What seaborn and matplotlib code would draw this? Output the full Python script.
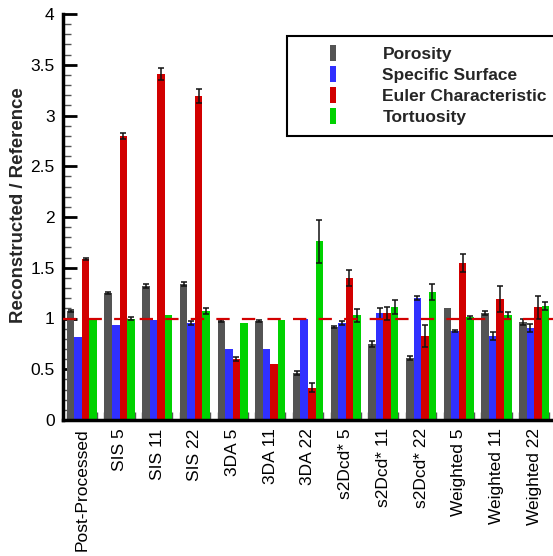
import matplotlib
matplotlib.use("Agg")
import matplotlib.pyplot as plt
from matplotlib.lines import Line2D
from matplotlib.ticker import MultipleLocator, FuncFormatter
import seaborn as sns
import pandas as pd

# values
categories = ["Post-Processed", "SIS 5", "SIS 11", "SIS 22", "3DA 5", "3DA 11", "3DA 22",
              "s2Dcd* 5", "s2Dcd* 11", "s2Dcd* 22", "Weighted 5", "Weighted 11", "Weighted 22"]
metrics = ["Porosity", "Specific Surface", "Euler Characteristic", "Tortuosity"]

porosity = [1.07, 1.25, 1.32, 1.34, 0.98, 0.98, 0.46, 0.92, 0.75, 0.61, 1.10, 1.05, 0.97]
specific_surface = [0.82, 0.94, 0.99, 0.96, 0.70, 0.70, 1.00, 0.96, 1.05, 1.20, 0.88, 0.83, 0.91]
euler = [1.59, 2.80, 3.41, 3.19, 0.60, 0.55, 0.32, 1.40, 1.05, 0.83, 1.55, 1.19, 1.11]
tortuosity = [1.00, 1.00, 1.03, 1.07, 0.96, 0.99, 1.76, 1.03, 1.11, 1.26, 1.01, 1.03, 1.12]

porosity_err = [0.01, 0.01, 0.02, 0.02, 0.01, 0.01, 0.02, 0.01, 0.03, 0.02, 0.0, 0.02, 0.03]
specific_surface_err = [0.0, 0.0, 0.0, 0.02, 0.0, 0.0, 0.0, 0.02, 0.05, 0.02, 0.01, 0.04, 0.04]
euler_err = [0.01, 0.03, 0.06, 0.07, 0.02, 0.0, 0.04, 0.08, 0.06, 0.11, 0.09, 0.13, 0.11]
tortuosity_err = [0.0, 0.01, 0.0, 0.03, 0.0, 0.0, 0.21, 0.06, 0.07, 0.08, 0.01, 0.03, 0.04]

reference_level = 1.0
colors = ["#545454", "#3030ff", "#d20000", "#00d200"]

values = [porosity, specific_surface, euler, tortuosity]
errors = [porosity_err, specific_surface_err, euler_err, tortuosity_err]

rows = []
for metric, vals in zip(metrics, values):
    for cat, v in zip(categories, vals):
        rows.append({"case": cat, "metric": metric, "ratio": v})
df = pd.DataFrame(rows)

sns.set_style("white")
plt.rcParams["font.family"] = ["Liberation Sans", "DejaVu Sans"]

fig = plt.figure(figsize=(5.53, 5.56), dpi=100)
ax = fig.add_axes([63 / 553, 1 - 420 / 556, 490 / 553, 406 / 556])

sns.barplot(data=df, x="case", y="ratio", hue="metric", order=categories,
            hue_order=metrics, palette=colors, errorbar=None, width=0.8,
            linewidth=0, saturation=1, ax=ax)

# error bars on top of each bar
for container, errs in zip(ax.containers, errors):
    for patch, err in zip(container.patches, errs):
        if err <= 0:
            continue
        xc = patch.get_x() + patch.get_width() / 2
        ax.errorbar(xc, patch.get_height(), yerr=err, fmt="none", ecolor="#111111",
                    elinewidth=1.1, capsize=2.5, capthick=1.1, zorder=4)

ax.axhline(reference_level, color="#d20000", lw=1.6, linestyle=(0, (6, 5.5)), zorder=5)

ax.set_xlim(-0.5, len(categories) - 0.5)
ax.set_ylim(0, 4)
ax.set_xlabel("")
ax.set_ylabel("Reconstructed / Reference", fontsize=13.4, fontweight="bold")
ax.yaxis.set_label_coords(-0.074, 0.53)

ax.yaxis.set_major_locator(MultipleLocator(0.5))
ax.yaxis.set_minor_locator(MultipleLocator(0.1))
ax.yaxis.set_major_formatter(FuncFormatter(lambda v, p: f"{v:g}"))
ax.set_xticks(range(len(categories)))
ax.set_xticklabels(categories)
ax.set_xticks([i + d for i in range(len(categories)) for d in (-0.4, -0.2, 0.2, 0.4)], minor=True)

ax.tick_params(axis="both", which="major", direction="in", length=10, width=2,
               labelsize=12.5, colors="black")
ax.tick_params(axis="both", which="minor", direction="in", length=6, width=1, color="#555555")
ax.tick_params(axis="x", which="major", labelrotation=90, pad=6)
ax.tick_params(axis="y", which="major", pad=6)
ax.tick_params(left=True, bottom=True, which="both")

for side in ["top", "right"]:
    ax.spines[side].set_visible(False)
for side in ["left", "bottom"]:
    ax.spines[side].set_linewidth(2.5)
    ax.spines[side].set_color("black")

if ax.get_legend() is not None:
    ax.get_legend().remove()
bar_marker = [(-0.19, -0.5), (0.19, -0.5), (0.19, 0.5), (-0.19, 0.5)]
handles = [Line2D([], [], linestyle="none", marker=bar_marker, markersize=12,
                  markerfacecolor=c, markeredgewidth=0) for c in colors]
leg = ax.legend(handles, metrics, loc="upper left", bbox_to_anchor=((287 - 63) / 490, (420 - 36) / 406),
                frameon=True, fancybox=False, framealpha=1, edgecolor="black",
                prop={"weight": "bold", "size": 12.5}, handlelength=4.0, handletextpad=0.85,
                borderpad=0.65, labelspacing=0.33, borderaxespad=0)
leg.get_frame().set_linewidth(1.5)
leg.set_zorder(6)

fig.savefig("out.png", dpi=100)
